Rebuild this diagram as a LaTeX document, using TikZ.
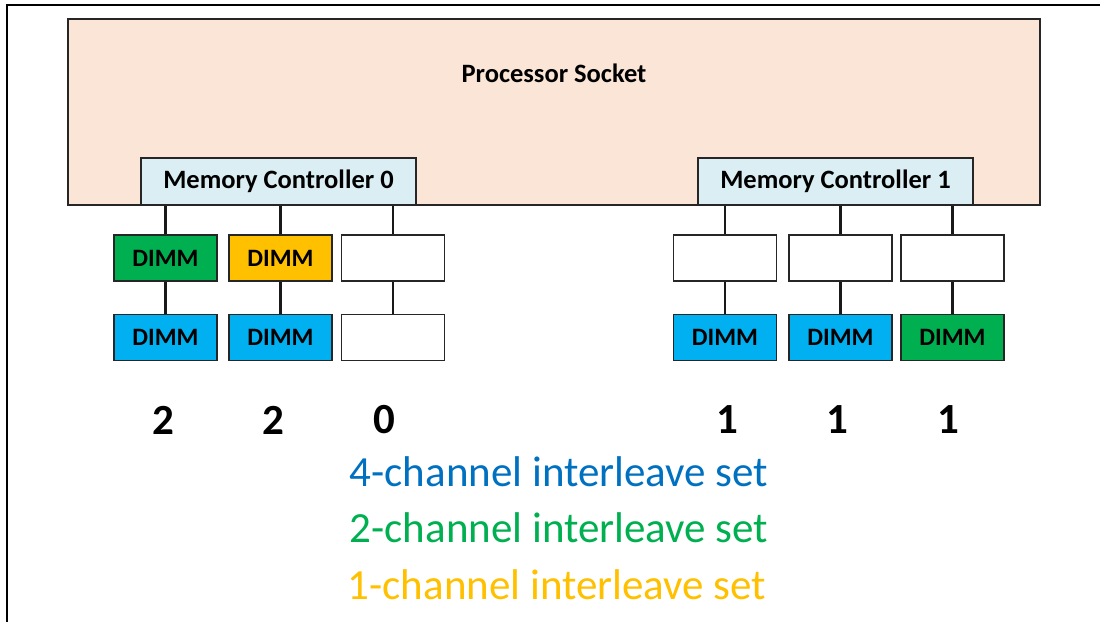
\documentclass[tikz,border=0pt]{standalone}
\usepackage{fontspec}
\setmainfont{Carlito}
\usetikzlibrary{positioning}
\definecolor{socketfill}{HTML}{FBE5D6}
\definecolor{mcfill}{HTML}{DAEEF3}
\definecolor{dimmgreen}{HTML}{00B050}
\definecolor{dimmyellow}{HTML}{FFC000}
\definecolor{dimmblue}{HTML}{00B0F0}
\definecolor{setblue}{HTML}{0070C0}
\tikzset{
node distance=32pt, % gap between the two DIMM slots of a channel
box/.style={draw=black!85, line width=1.2pt, rectangle, inner sep=0pt},
slot/.style={box, minimum width=103pt, minimum height=46pt, font=\fontsize{25}{30}\selectfont\bfseries},
ctrl/.style={box, fill=mcfill, minimum width=275pt, minimum height=47pt, font=\fontsize{26.5}{31}\selectfont\bfseries},
link/.style={line width=2.6pt, draw=black!90},
count/.style={font=\fontsize{43}{50}\selectfont\bfseries},
setname/.style={font=\fontsize{43}{50}\selectfont},
}

\begin{document}
\begin{tikzpicture}[x=1pt,y=1pt,yscale=-1,xscale=1]
\useasboundingbox (0,0) rectangle (1100,622);
%Frame
\draw [line width=1.5pt] (7,622) -- (7,5) -- (1100,5) ;
%Socket
\node (socket) [box, fill=socketfill, minimum width=972pt, minimum height=186pt] at (554,112) {};
\node (sockettext) [font=\fontsize{26.5}{31}\selectfont\bfseries] at (554,73) {Processor Socket};
%Controllers
\node (mc0) [ctrl] at (278.5,181.5) {Memory Controller 0};
\node (mc1) [ctrl] at (835.5,181.5) {Memory Controller 1};
%DIMM slots, controller 0
\node (s00) [slot, fill=dimmgreen] at (165.5,258) {DIMM};
\node (s01) [slot, fill=dimmblue, below=of s00] {DIMM};
\node (s10) [slot, fill=dimmyellow] at (280.5,258) {DIMM};
\node (s11) [slot, fill=dimmblue, below=of s10] {DIMM};
\node (s20) [slot, fill=white] at (393,258) {};
\node (s21) [slot, fill=white, below=of s20] {};
%DIMM slots, controller 1
\node (s30) [slot, fill=white] at (725,258) {};
\node (s31) [slot, fill=dimmblue, below=of s30] {DIMM};
\node (s40) [slot, fill=white] at (840.5,258) {};
\node (s41) [slot, fill=dimmblue, below=of s40] {DIMM};
\node (s50) [slot, fill=white] at (952.5,258) {};
\node (s51) [slot, fill=dimmgreen, below=of s50] {DIMM};
%Channels
\draw [link] (s00.north |- mc0.south) -- (s00.north) (s00.south) -- (s01.north) ;
\draw [link] (s10.north |- mc0.south) -- (s10.north) (s10.south) -- (s11.north) ;
\draw [link] (s20.north |- mc0.south) -- (s20.north) (s20.south) -- (s21.north) ;
\draw [link] (s30.north |- mc1.south) -- (s30.north) (s30.south) -- (s31.north) ;
\draw [link] (s40.north |- mc1.south) -- (s40.north) (s40.south) -- (s41.north) ;
\draw [link] (s50.north |- mc1.south) -- (s50.north) (s50.south) -- (s51.north) ;
%Counts
\node (n0) [count] at (163,420) {2};
\node (n1) [count] at (273,420) {2};
\node (n2) [count] at (384,420) {0};
\node (n3) [count] at (727,420) {1};
\node (n4) [count] at (837,420) {1};
\node (n5) [count] at (948,420) {1};
%Interleave sets
\node (set4) [setname, text=setblue] at (559,472) {4-channel interleave set};
\node (set2) [setname, text=dimmgreen] at (559,528) {2-channel interleave set};
\node (set1) [setname, text=dimmyellow] at (557,585) {1-channel interleave set};
\end{tikzpicture}
\end{document}
